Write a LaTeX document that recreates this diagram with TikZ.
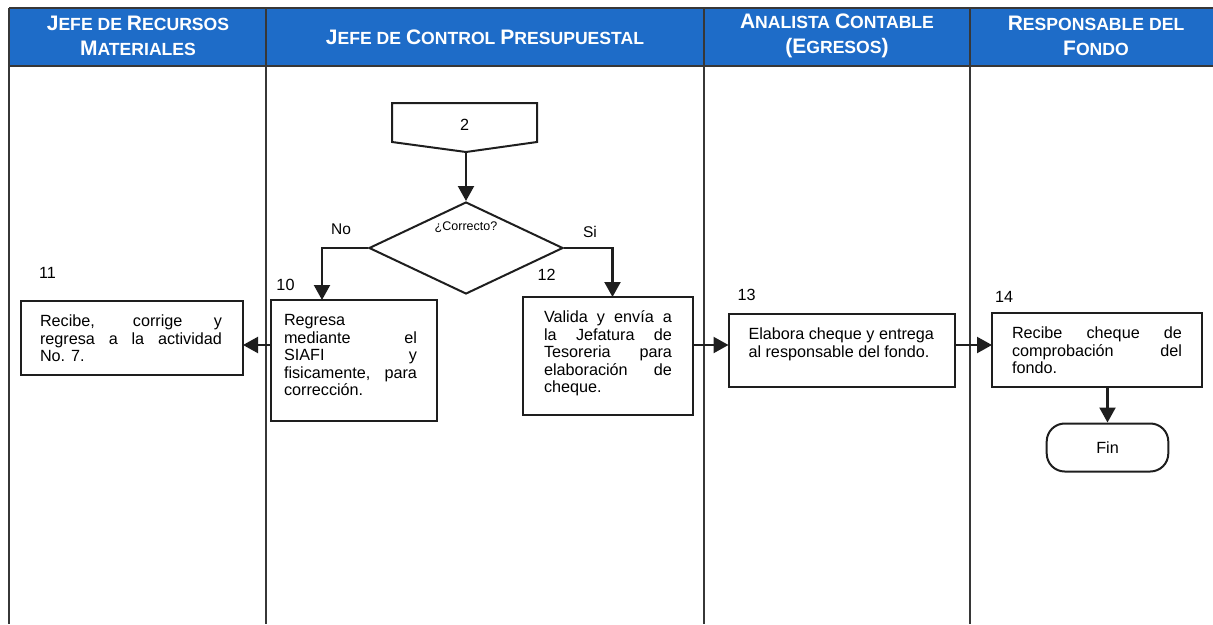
\documentclass[tikz,border=0pt]{standalone}
\usepackage{fontspec}
\setmainfont{Liberation Sans}
\usetikzlibrary{arrows.meta,shapes.geometric}

\definecolor{hdblue}{RGB}{30,108,200}
\definecolor{ink}{RGB}{30,30,30}
\definecolor{laneclr}{RGB}{55,55,55}

% body text of the activity boxes
\newcommand\bodyfont{\fontsize{16.2}{17.5}\selectfont}
% header lettering: a large initial followed by smaller capitals
\newcommand\hdcap[2]{{\fontsize{21}{25}\selectfont #1}{\fontsize{17.6}{25}\selectfont #2}}
% box content: left pad, text width, right pad, box height, top pad, text
\newcommand\boxtext[6]{\hspace*{#1}\parbox[c][#4][t]{#2}{\vspace*{#5}\bodyfont
  \tolerance=10000\hbadness=10000\strut #6}\hspace*{#3}}

\begin{document}
\begin{tikzpicture}[x=1pt,y=-1pt,
  lane/.style={draw=laneclr, line width=1.8pt},
  stepbox/.style={draw=ink, line width=2pt, inner sep=0pt, outer sep=0pt,
    anchor=north west, fill=white},
  conn/.style={draw=ink, line width=2.2pt, -{Triangle[length=15pt,width=16pt]}},
  num/.style={font=\bodyfont, inner sep=0pt},
  hdtext/.style={text=white, font=\fontsize{17.6}{25}\selectfont\bfseries,
    align=center, inner sep=0pt}]

\useasboundingbox (0,0) rectangle (1213,624);

% swimlane header band and lane borders
\fill[hdblue] (9,8) rectangle (1213,66);
\draw[lane] (9,8) -- (1213,8);
\draw[lane] (9,66) -- (1213,66);
\foreach \lx in {9,266,704,970} \draw[lane] (\lx,8) -- (\lx,624);

\node[hdtext] (h1) at (138,36) {\hdcap{J}{EFE DE} \hdcap{R}{ECURSOS}\\\hdcap{M}{ATERIALES}};
\node[hdtext] (h2) at (485,37) {\hdcap{J}{EFE DE} \hdcap{C}{ONTROL} \hdcap{P}{RESUPUESTAL}};
\node[hdtext] (h3) at (837,36) {\hdcap{A}{NALISTA} \hdcap{C}{ONTABLE}\\\hdcap{(E}{GRESOS}\hdcap{)}{}};
\node[hdtext] (h4) at (1096,36) {\hdcap{R}{ESPONSABLE DEL}\\\hdcap{F}{ONDO}};

% off-page reference
\draw[ink, line width=2pt, fill=white] (392,103) -- (537,103) -- (537,142)
  -- (466,152) -- (392,142) -- cycle;
\node[num] (op) at (464.5,125) {2};
\coordinate (opTip) at (466,152);

% decision
\node[draw=ink, line width=2pt, diamond, minimum width=194pt, minimum height=92pt,
  inner sep=0pt] (dec) at (466,248) {};
\node[font=\fontsize{12.5}{14}\selectfont, inner sep=0pt] (q) at (466,227) {¿Correcto?};
\node[font=\fontsize{15.5}{17}\selectfont, inner sep=0pt] (no) at (341,229) {No};
\node[font=\fontsize{15.5}{17}\selectfont, inner sep=0pt] (si) at (590,232) {Si};

% activities
\node[stepbox] (b11) at (21,301)
  {\boxtext{19pt}{182pt}{21pt}{74pt}{13.6pt}{Recibe, corrige y\linebreak regresa a la actividad\linebreak No. 7.}};
\node[stepbox] (b10) at (271,300)
  {\boxtext{13pt}{133pt}{20pt}{121pt}{13.6pt}{Regresa\\ mediante el\linebreak SIAFI y\linebreak fisicamente, para\linebreak corrección.}};
\node[stepbox] (b12) at (523,297)
  {\boxtext{21pt}{128pt}{21pt}{118pt}{13.6pt}{Valida y envía a\linebreak la Jefatura de\linebreak Tesoreria para\linebreak elaboración de\linebreak cheque.}};
\node[stepbox] (b13) at (728.5,314)
  {\boxtext{20pt}{192pt}{14.5pt}{73pt}{13.6pt}{Elabora cheque y entrega\\ al responsable del fondo.}};
\node[stepbox] (b14) at (992,313)
  {\boxtext{20pt}{170pt}{20pt}{74pt}{13.6pt}{Recibe cheque de\linebreak comprobación del\linebreak fondo.}};
\node[draw=ink, line width=2pt, rounded corners=18pt, minimum width=121.6pt,
  minimum height=48pt, inner sep=0pt, font=\bodyfont] (fin) at (1107.5,447.5) {Fin};

% activity numbers
\node[num] (n11) at (47.5,273) {11};
\node[num] (n10) at (285.5,285) {10};
\node[num] (n12) at (546.7,275) {12};
\node[num] (n13) at (746.7,295) {13};
\node[num] (n14) at (1004,296.7) {14};

% connectors
\coordinate (row) at (0,345);
\draw[conn] (opTip) -- (dec.north);
\draw[conn] (dec.west) -| ([xshift=51pt]b10.north west);
\draw[conn] (dec.east) -| ([xshift=89.5pt]b12.north west);
\draw[conn] (b10.west |- row) -- (b11.east |- row);
\draw[conn] (b12.east |- row) -- (b13.west |- row);
\draw[conn] (b13.east |- row) -- (b14.west |- row);
\draw[conn] (fin.north |- b14.south) -- (fin.north);
\end{tikzpicture}
\end{document}
